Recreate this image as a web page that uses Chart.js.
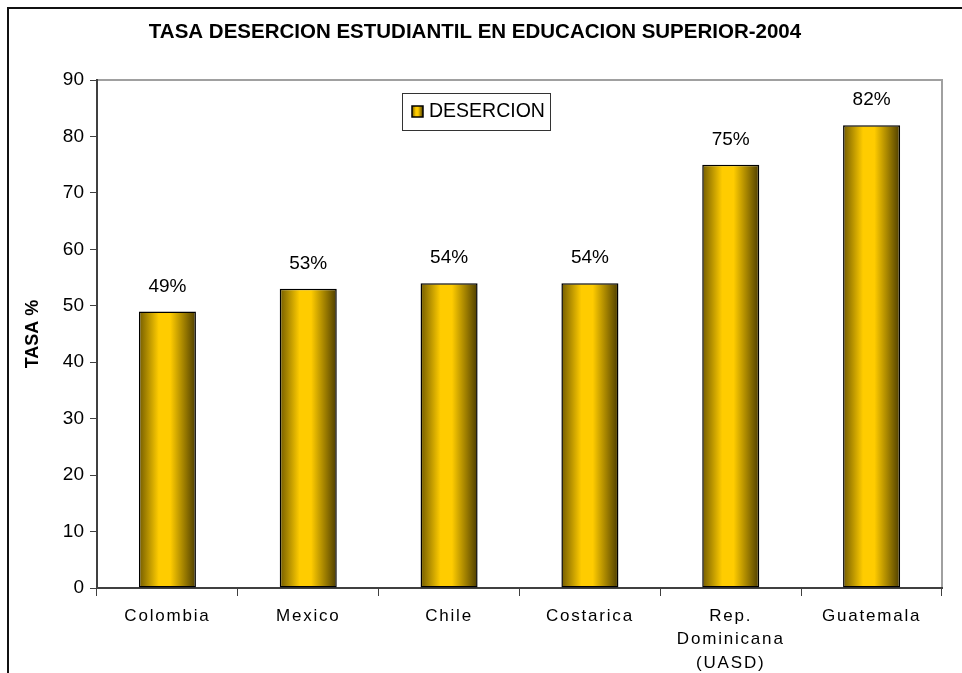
<!DOCTYPE html>
<html>
<head>
<meta charset="utf-8">
<script src="https://cdn.jsdelivr.net/npm/chart.js@4"></script>
<style>
  html, body { margin: 0; padding: 0; background: #fff; }
  #wrap { width: 962px; height: 673px; position: relative; }
</style>
</head>
<body>
<div id="wrap"><canvas id="chart"></canvas></div>
<script>
const categories = ['Colombia', 'Mexico', 'Chile', 'Costarica', ['Rep.', 'Dominicana', '(UASD)'], 'Guatemala'];
const desercion = [49, 53, 54, 54, 75, 82];
const y_ticks = [0, 10, 20, 30, 40, 50, 60, 70, 80, 90];
const title_text = 'TASA DESERCION ESTUDIANTIL EN EDUCACION SUPERIOR-2004';
const series_name = 'DESERCION';

const FONT = "'Liberation Sans', Arial, sans-serif";
const BAR_PCT = 0.405;

function goldGradient(ctx, x0, x1) {
    const g = ctx.createLinearGradient(x0, 0, x1, 0);
    g.addColorStop(0, '#735c00');
    g.addColorStop(0.35, '#ffcc00');
    g.addColorStop(0.55, '#ffcc00');
    g.addColorStop(1, '#4d3d00');
    return g;
}

function barFill(c) {
    const chart = c.chart;
    const s = chart.scales && chart.scales.x;
    if (!s || !chart.chartArea || c.dataIndex === undefined) return '#ffcc00';
    const cx = s.getPixelForValue(c.dataIndex);
    const hw = s.width / categories.length * BAR_PCT / 2;
    return goldGradient(chart.ctx, cx - hw, cx + hw);
}

const frame = {
    id: 'frame',
    beforeDraw(chart) {
        const ctx = chart.ctx;
        const a = chart.chartArea;
        ctx.save();
        ctx.fillStyle = '#fff';
        ctx.fillRect(0, 0, chart.width, chart.height);
        // outer border (top and left)
        ctx.strokeStyle = '#111';
        ctx.lineWidth = 2;
        ctx.beginPath();
        ctx.moveTo(8, chart.height);
        ctx.lineTo(8, 8);
        ctx.lineTo(chart.width, 8);
        ctx.stroke();
        // title
        ctx.fillStyle = '#000';
        ctx.font = 'bold 20.5px ' + FONT;
        ctx.textAlign = 'center';
        ctx.textBaseline = 'middle';
        ctx.fillText(title_text, 475, 32);
        // plot area top/right border
        ctx.strokeStyle = '#a0a0a0';
        ctx.lineWidth = 2;
        ctx.beginPath();
        ctx.moveTo(a.left, a.top);
        ctx.lineTo(a.right, a.top);
        ctx.lineTo(a.right, a.bottom);
        ctx.stroke();
        ctx.restore();
    },
    afterDatasetsDraw(chart) {
        const ctx = chart.ctx;
        const meta = chart.getDatasetMeta(0);
        ctx.save();
        ctx.fillStyle = '#000';
        ctx.font = '19px ' + FONT;
        ctx.textAlign = 'center';
        ctx.textBaseline = 'middle';
        meta.data.forEach((bar, i) => {
            ctx.fillText(desercion[i] + '%', bar.x, bar.y - 25);
        });
        // legend box
        ctx.fillStyle = '#fff';
        ctx.fillRect(402.5, 93.5, 148, 37);
        ctx.strokeStyle = '#333';
        ctx.lineWidth = 1;
        ctx.strokeRect(402.5, 93.5, 148, 37);
        ctx.fillStyle = goldGradient(ctx, 412, 423);
        ctx.fillRect(412, 106, 11, 11);
        ctx.strokeStyle = '#000';
        ctx.lineWidth = 1.5;
        ctx.strokeRect(412, 106, 11, 11);
        ctx.fillStyle = '#000';
        ctx.font = '19.5px ' + FONT;
        ctx.textAlign = 'left';
        ctx.fillText(series_name, 429, 112);
        ctx.restore();
    }
};

const chart = new Chart(document.getElementById('chart'), {
    type: 'bar',
    data: {
        labels: categories,
        datasets: [{
            label: series_name,
            data: desercion,
            backgroundColor: barFill,
            borderColor: '#000',
            borderWidth: 1.5,
            borderSkipped: false,
            barPercentage: BAR_PCT,
            categoryPercentage: 1
        }]
    },
    options: {
        responsive: true,
        maintainAspectRatio: false,
        animation: false,
        layout: { padding: { top: 80, right: 20, left: 0, bottom: 0 } },
        plugins: {
            legend: { display: false },
            title: { display: false },
            tooltip: { enabled: false }
        },
        scales: {
            x: {
                grid: { display: true, drawOnChartArea: false, drawTicks: true, tickLength: 8, color: '#404040', offset: true },
                border: { display: true, color: '#404040', width: 2 },
                ticks: { color: '#000', font: { family: FONT, size: 17, lineHeight: 1.4 }, padding: 8, maxRotation: 0, autoSkip: false },
                afterFit(s) { s.height = 85; }
            },
            y: {
                min: 0,
                max: 90,
                afterBuildTicks(s) { s.ticks = y_ticks.map(v => ({ value: v })); },
                grid: { display: true, drawOnChartArea: false, drawTicks: true, tickLength: 7, color: '#404040' },
                border: { display: true, color: '#404040', width: 2 },
                ticks: { color: '#000', font: { family: FONT, size: 19 }, padding: 6 },
                title: { display: true, text: 'TASA %', color: '#000', font: { family: FONT, size: 18, weight: 'bold' }, padding: { top: 22, bottom: 0 } },
                afterFit(s) { s.width = 97; }
            }
        }
    },
    plugins: [frame]
});

// spaced-out category labels as in the original
const xs = chart.scales.x;
const origDrawLabels = xs.drawLabels.bind(xs);
xs.drawLabels = function (area) {
    const ctx = chart.ctx;
    ctx.save();
    ctx.letterSpacing = '1.8px';
    origDrawLabels(area);
    ctx.restore();
};
chart.draw();
</script>
</body>
</html>
